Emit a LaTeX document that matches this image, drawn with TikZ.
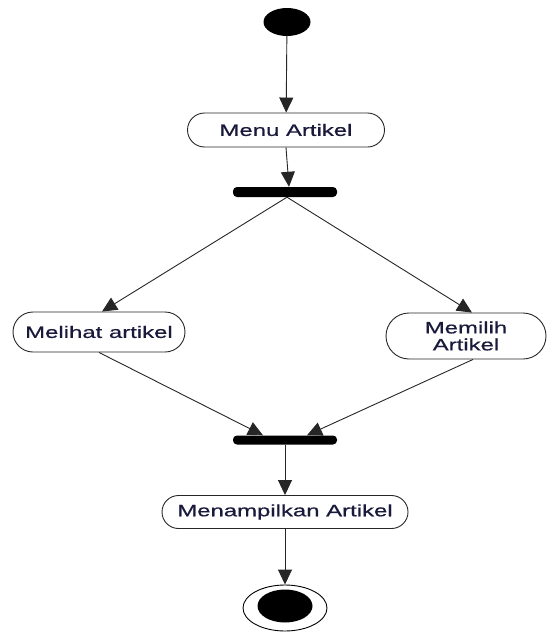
\documentclass[tikz,border=0pt]{standalone}
\usepackage{fontspec}
\setmainfont{Liberation Sans}
\newfontfamily\lblfont[FakeStretch=1.45,FakeBold=0.6]{Liberation Sans}
\usetikzlibrary{arrows.meta,shapes.geometric}
\definecolor{txt}{RGB}{25,25,60}
\begin{document}
\begin{tikzpicture}[x=1pt,y=-1pt,
  act/.style={draw=black!85, line width=0.9pt, rounded corners=#1, inner sep=0pt,
    font=\lblfont\fontsize{16.5}{17}\selectfont, align=center, text=txt},
  bar/.style={fill=black, rounded corners=4pt, inner sep=0pt, minimum width=104pt},
  flow/.style={draw=black!85, line width=0.9pt, -{Triangle[width=14pt,length=15pt]}},
]
\useasboundingbox (0,0) rectangle (548,632);
\node[ellipse, fill=black, inner sep=0pt, minimum width=47pt, minimum height=28pt] (start) at (287,22) {};
\node[act=17pt, minimum width=197pt, minimum height=34pt] (menu) at (286,130) {Menu Artikel};
\node[bar, minimum height=10pt] (fork) at (285,192) {};
\node[act=20pt, minimum width=172pt, minimum height=40pt] (lihat) at (99,332) {Melihat artikel};
\node[act=23pt, minimum width=160pt, minimum height=46pt] (pilih) at (466,336) {Memilih\\Artikel};
\node[bar, minimum height=9pt] (join) at (285,440) {};
\node[act=16.5pt, minimum width=246pt, minimum height=33pt] (show) at (285,512) {Menampilkan Artikel};
\node[ellipse, draw=black, line width=0.9pt, inner sep=0pt, minimum width=84pt, minimum height=46pt] (end) at (285,608) {};
\node[ellipse, fill=black, inner sep=0pt, minimum width=55pt, minimum height=33pt] (endin) at (285,606) {};
\draw[flow] (start) -- (menu);
\draw[flow] (menu.south) -- ([xshift=4pt]fork.north);
\draw[flow] ([xshift=2pt]fork.south) -- ([xshift=3pt]lihat.north);
\draw[flow] ([xshift=2pt]fork.south) -- ([xshift=6pt]pilih.north);
\draw[flow] (lihat.south) -- ([xshift=-22pt]join.north);
\draw[flow] ([xshift=7pt]pilih.south) -- ([xshift=22pt]join.north);
\draw[flow] (join) -- (show);
\draw[flow] (show) -- (end);
\end{tikzpicture}
\end{document}
